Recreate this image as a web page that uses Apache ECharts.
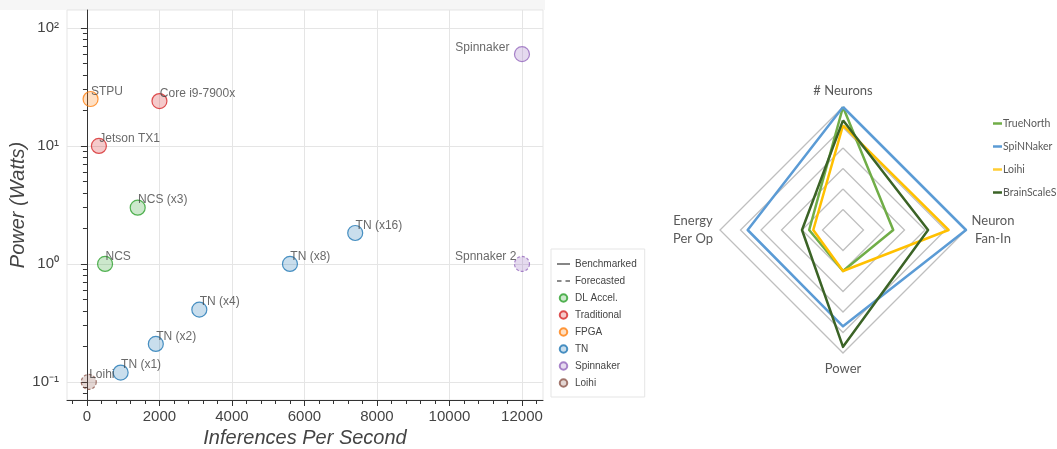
<!DOCTYPE html>
<html><head><meta charset="utf-8">
<script src="https://cdn.jsdelivr.net/npm/echarts@6/dist/echarts.min.js"></script>
<style>html,body{margin:0;padding:0;background:#fff}#c{width:1057px;height:449px}</style>
</head><body><div id="c"></div>
<script>
// ---- scatter data ----
const dlNames = ['NCS (x3)', 'NCS'];
const dlX = [1400, 500];
const dlY = [3, 1];
const tradNames = ['Core i9-7900x', 'Jetson TX1'];
const tradX = [2000, 330];
const tradY = [24, 10];
const fpgaNames = ['STPU'];
const fpgaX = [100];
const fpgaY = [25];
const tnNames = ['TN (x1)', 'TN (x2)', 'TN (x4)', 'TN (x8)', 'TN (x16)'];
const tnX = [930, 1900, 3100, 5600, 7400];
const tnY = [0.12, 0.21, 0.41, 1, 1.83];
const spinNames = ['Spinnaker', 'Spnnaker 2'];
const spinX = [12000, 12000];
const spinY = [60, 1];
const loihiNames = ['Loihi'];
const loihiX = [50];
const loihiY = [0.1];

// ---- ticks ----
const xTicks = [0, 2000, 4000, 6000, 8000, 10000, 12000];
const xMinorTicks = [-400, 400, 800, 1200, 1600, 2400, 2800, 3200, 3600, 4400, 4800, 5200, 5600,
  6400, 6800, 7200, 7600, 8400, 8800, 9200, 9600, 10400, 10800, 11200, 11600, 12400];
const yTicks = [0.1, 1, 10, 100];
const yTickLabels = ['10⁻¹', '10⁰', '10¹', '10²'];
const yMinorTicks = [0.08, 0.09, 0.2, 0.3, 0.4, 0.5, 0.6, 0.7, 0.8, 0.9,
  2, 3, 4, 5, 6, 7, 8, 9, 20, 30, 40, 50, 60, 70, 80, 90];

// ---- radar data ----
const radarAxes = ['# Neurons', 'Energy\nPer Op', 'Power', 'Neuron\nFan-In'];
const radarNames = ['TrueNorth', 'SpiNNaker', 'Loihi', 'BrainScaleS'];
const trueNorth = [6, 1.65, 2.0, 2.45];
const spiNNaker = [6, 4.65, 4.7, 6];
const loihiRadar = [5.1, 1.45, 2.0, 5.15];
const brainScaleS = [5.35, 2.0, 5.7, 4.15];
const radarValues = [trueNorth, spiNNaker, loihiRadar, brainScaleS];
const radarColors = ['#70ad47', '#5b9bd5', '#ffc000', '#3b6326'];

const FONT = 'Liberation Sans';
const pts = (names, xs, ys) => names.map((n, i) => ({ name: n, value: [xs[i], ys[i]] }));

const baseLabel = {
  show: true, formatter: '{b}', position: [8.5, 0.5], align: 'left', verticalAlign: 'middle',
  fontSize: 12, color: '#444', fontFamily: FONT
};
function scatter(name, data, dark, rgba, dashed) {
  return {
    type: 'scatter', name, data, xAxisIndex: 0, yAxisIndex: 0,
    symbol: 'circle', symbolSize: 15,
    itemStyle: { color: rgba, borderColor: dark, borderWidth: 1.2, borderType: dashed ? [3, 2] : 'solid' },
    label: baseLabel, emphasis: { disabled: true }, z: 3
  };
}

const spinData = pts(spinNames, spinX, spinY);
spinData[0].label = { position: [-4.5, 1.5], align: 'right' };
spinData[1].label = { position: [2.5, 0.5], align: 'right' };
spinData[1].itemStyle = { borderType: [3, 2] };

const yLabel = v => {
  for (let i = 0; i < yTicks.length; i++) if (Math.abs(v - yTicks[i]) / yTicks[i] < 1e-6) return yTickLabels[i];
  return '';
};

const option = {
  animation: false,
  graphic: [{ type: 'rect', shape: { x: 0, y: 0, width: 545, height: 10 }, style: { fill: '#f6f6f6' }, silent: true, z: -10 }],
  grid: { left: 67, top: 10, width: 476, height: 390, show: true, borderColor: '#e5e5e5', borderWidth: 1,
    backgroundColor: '#fff', containLabel: false, outerBoundsMode: 'none' },
  xAxis: [{
    type: 'value', min: -550, max: 12580, position: 'bottom',
    name: 'Inferences Per Second', nameLocation: 'middle', nameGap: 27,
    nameTextStyle: { fontStyle: 'italic', fontSize: 20, color: '#444', fontFamily: FONT },
    axisLine: { show: true, lineStyle: { color: '#333', width: 1 } },
    axisTick: { show: true, customValues: xTicks, length: 6, lineStyle: { color: '#333' } },
    axisLabel: { customValues: xTicks, formatter: v => String(v), fontSize: 15, color: '#444', margin: 9, fontFamily: FONT },
    splitLine: { show: true, lineStyle: { color: '#e5e5e5' } }
  }, {
    type: 'value', min: -550, max: 12580, position: 'bottom', offset: 0,
    axisLine: { show: false },
    axisTick: { show: true, customValues: xMinorTicks, length: 4, lineStyle: { color: '#333' } },
    axisLabel: { show: false }, splitLine: { show: false }
  }],
  yAxis: [{
    type: 'log', logBase: 10, min: 0.0703, max: 142, position: 'left',
    name: 'Power (Watts)', nameLocation: 'middle', nameGap: 32,
    nameTextStyle: { fontStyle: 'italic', fontSize: 20, color: '#444', fontFamily: FONT },
    axisLine: { show: true, lineStyle: { color: '#333', width: 1 } },
    axisTick: { show: true, customValues: yTicks, length: 6, lineStyle: { color: '#333' } },
    axisLabel: { customValues: yTicks, formatter: yLabel, fontSize: 15, color: '#444', margin: 8, fontFamily: FONT },
    splitLine: { show: true, lineStyle: { color: '#e5e5e5' } }
  }, {
    type: 'log', logBase: 10, min: 0.0703, max: 142, position: 'left', offset: 0,
    axisLine: { show: false },
    axisTick: { show: true, customValues: yMinorTicks, length: 4, lineStyle: { color: '#333' } },
    axisLabel: { show: false }, splitLine: { show: false }
  }],
  legend: [{
    orient: 'vertical', left: 551, top: 249, padding: [10, 8, 9, 6], itemGap: 7,
    itemWidth: 13, itemHeight: 7.5, borderColor: '#e5e5e5', borderWidth: 1, backgroundColor: '#fff',
    textStyle: { fontSize: 10, color: '#444', fontFamily: FONT },
    data: [
      { name: 'Benchmarked', icon: 'path://M0,0h13v1.3h-13z', itemStyle: { color: '#444' } },
      { name: 'Forecasted', icon: 'path://M0,0h4v1.3h-4zM7.5,0h4v1.3h-4z', itemStyle: { color: '#666' } },
      { name: 'DL Accel.', icon: 'circle' },
      { name: 'Traditional', icon: 'circle' },
      { name: 'FPGA', icon: 'circle' },
      { name: 'TN', icon: 'circle' },
      { name: 'Spinnaker', icon: 'circle' },
      { name: 'Loihi', icon: 'circle' }
    ],
    selectedMode: false
  }, {
    orient: 'vertical', left: 993, top: 118, padding: 0, itemGap: 12,
    itemWidth: 9, itemHeight: 2.5, icon: 'rect',
    textStyle: { fontSize: 10.5, color: '#595959', fontFamily: 'Lato', padding: [0, 0, 0, -4] },
    data: radarNames.map((n, i) => ({ name: n, icon: 'rect', itemStyle: { color: radarColors[i], borderWidth: 0 } })),
    selectedMode: false
  }],
  radar: {
    center: [843, 230], radius: 123, startAngle: 90, splitNumber: 6, shape: 'polygon',
    indicator: radarAxes.map(n => ({ name: n, min: 0, max: 6 })),
    axisNameGap: 7,
    axisName: {
      color: '#595959', fontSize: 13, fontFamily: 'Lato', lineHeight: 17.5,
      formatter: v => v.split('\n').map(s => '{c|' + s + '}').join('\n'),
      rich: { c: { align: 'center', width: 40, fontSize: 13, fontFamily: 'Lato', color: '#595959', lineHeight: 17.5 } }
    },
    axisLine: { show: false },
    splitLine: { lineStyle: { color: '#bfbfbf', width: 1.3 } },
    splitArea: { show: false }
  },
  series: [
    { type: 'line', name: 'Benchmarked', data: [], symbol: 'none', lineStyle: { color: '#444', width: 1.2 }, itemStyle: { color: '#444' } },
    { type: 'line', name: 'Forecasted', data: [], symbol: 'none', lineStyle: { color: '#666', width: 1.2, type: [4, 4] }, itemStyle: { color: '#666' } },
    scatter('DL Accel.', pts(dlNames, dlX, dlY), '#2ca02c', 'rgba(44,160,44,0.3)'),
    scatter('Traditional', pts(tradNames, tradX, tradY), '#d62728', 'rgba(214,39,40,0.3)'),
    scatter('FPGA', pts(fpgaNames, fpgaX, fpgaY), '#ff7f0e', 'rgba(255,127,14,0.3)'),
    scatter('TN', pts(tnNames, tnX, tnY), '#1f77b4', 'rgba(31,119,180,0.3)'),
    scatter('Spinnaker', spinData, '#9467bd', 'rgba(148,103,189,0.3)'),
    scatter('Loihi', pts(loihiNames, loihiX, loihiY), '#8c564b', 'rgba(140,86,75,0.3)', true),
    {
      type: 'radar', symbol: 'none', emphasis: { disabled: true },
      data: radarNames.map((n, i) => ({
        name: n, value: radarValues[i],
        lineStyle: { color: radarColors[i], width: 2.5 },
        itemStyle: { color: radarColors[i] },
        areaStyle: { opacity: 0 }
      }))
    }
  ]
};
const chart = echarts.init(document.getElementById('c'), null, { renderer: 'canvas' });
chart.setOption(option);
</script></body></html>
